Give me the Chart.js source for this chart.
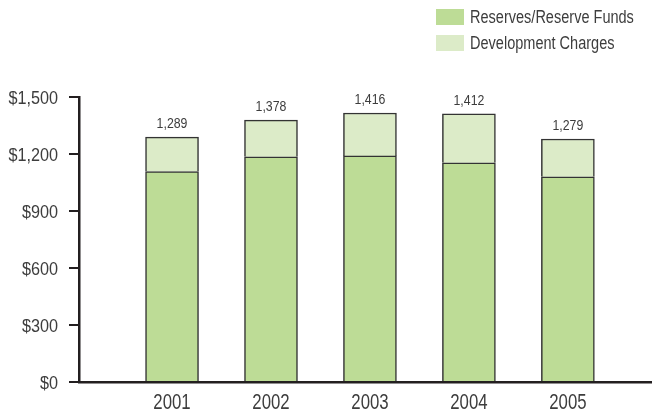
<!DOCTYPE html>
<html>
<head>
<meta charset="utf-8">
<script src="https://cdn.jsdelivr.net/npm/chart.js@4.4.1/dist/chart.umd.min.js"></script>
<style>
  html, body { margin: 0; padding: 0; background: #fff; }
  #wrap { position: relative; width: 652px; height: 411px; }
  #legend {
    position: absolute; left: 436px; top: 9px;
    font-family: 'Liberation Sans', Arial, sans-serif;
    font-size: 17.5px; color: #3d3d3d;
  }
  .item { display: flex; align-items: center; height: 16px; margin-bottom: 10px; white-space: nowrap; }
  .swatch { width: 28px; height: 16px; margin-right: 6px; flex: none; }
  .label { display: inline-block; transform: scaleX(0.83); transform-origin: left center; }
</style>
</head>
<body>
<div id="wrap">
  <canvas id="chart" width="652" height="411"></canvas>
  <div id="legend"></div>
</div>
<script>
// Data
const years = ['2001', '2002', '2003', '2004', '2005'];
const reserves = [1108, 1185, 1190, 1154, 1080];
const devCharges = [181, 193, 226, 258, 199];
const yTicks = [0, 300, 600, 900, 1200, 1500];

const FONT = "'Liberation Sans', Arial, sans-serif";
const TEXT = '#3d3d3d';
const AXIS = '#231f20';

// the original uses a condensed face; squeeze a regular one horizontally
function condensedText(ctx, text, x, y, align, size, sx) {
  ctx.save();
  ctx.font = size + 'px ' + FONT;
  ctx.fillStyle = TEXT;
  ctx.textAlign = align;
  ctx.textBaseline = 'alphabetic';
  ctx.translate(x, y);
  ctx.scale(sx, 1);
  ctx.fillText(text, 0, 0);
  ctx.restore();
}

// Axis labels and the totals above each stacked bar
const labelPlugin = {
  id: 'labelPlugin',
  afterDraw(chart) {
    const ctx = chart.ctx;
    const xs = chart.scales.x;
    const ys = chart.scales.y;

    yTicks.forEach(v => {
      condensedText(ctx, '$' + v.toLocaleString('en-US'), ys.right - 21, ys.getPixelForValue(v) + 6.5, 'right', 18, 0.9);
    });

    years.forEach((yr, i) => {
      condensedText(ctx, yr, xs.getPixelForValue(i + 1), xs.top + 27, 'center', 21.5, 0.78);
    });

    const topMeta = chart.getDatasetMeta(chart.data.datasets.length - 1);
    topMeta.data.forEach((bar, i) => {
      const total = reserves[i] + devCharges[i];
      condensedText(ctx, total.toLocaleString('en-US'), bar.x, bar.y - 9, 'center', 14, 0.88);
    });
  }
};

const chart = new Chart(document.getElementById('chart'), {
  type: 'bar',
  data: {
    datasets: [
      {
        label: 'Reserves/Reserve Funds',
        data: years.map((y, i) => ({ x: i + 1, y: reserves[i] })),
        backgroundColor: '#bddc96',
        borderColor: '#333333',
        borderWidth: 1.5,
        borderSkipped: 'bottom',
        barThickness: 53
      },
      {
        label: 'Development Charges',
        data: years.map((y, i) => ({ x: i + 1, y: devCharges[i] })),
        backgroundColor: '#dcebc8',
        borderColor: '#333333',
        borderWidth: 1.5,
        borderSkipped: 'bottom',
        barThickness: 53
      }
    ]
  },
  options: {
    responsive: false,
    animation: false,
    layout: { padding: { top: 97, right: 0, bottom: 29, left: 0 } },
    plugins: {
      legend: { display: false },
      tooltip: { enabled: false }
    },
    scales: {
      x: {
        type: 'linear',
        offset: false,
        min: 0.06,
        max: 5.85,
        stacked: true,
        afterBuildTicks: s => { s.ticks = years.map((y, i) => ({ value: i + 1 })); },
        ticks: { display: false },
        grid: { display: false, drawTicks: false },
        border: { display: true, color: AXIS, width: 2.5 }
      },
      y: {
        stacked: true,
        min: 0,
        max: 1500,
        afterBuildTicks: s => { s.ticks = yTicks.map(v => ({ value: v })); },
        afterFit: s => { s.width = 79; },
        ticks: { display: false },
        grid: { drawOnChartArea: false, tickLength: 10, lineWidth: 2, color: AXIS },
        border: { display: true, color: AXIS, width: 2.5 }
      }
    }
  },
  plugins: [labelPlugin]
});

// Vertical legend, top right
const legend = document.getElementById('legend');
chart.data.datasets.forEach(ds => {
  const item = document.createElement('div');
  item.className = 'item';
  const sw = document.createElement('span');
  sw.className = 'swatch';
  sw.style.background = ds.backgroundColor;
  const label = document.createElement('span');
  label.className = 'label';
  label.textContent = ds.label;
  item.appendChild(sw);
  item.appendChild(label);
  legend.appendChild(item);
});
</script>
</body>
</html>
